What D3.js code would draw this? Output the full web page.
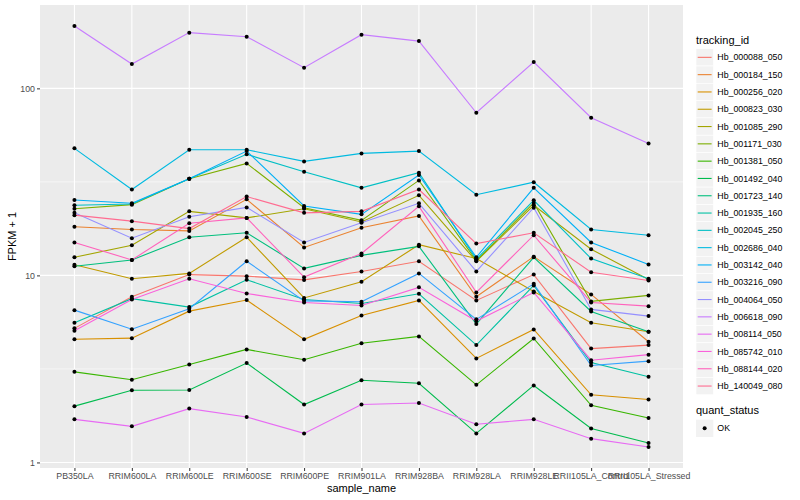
<!DOCTYPE html>
<html>
<head>
<meta charset="utf-8">
<script src="https://cdn.jsdelivr.net/npm/d3@7"></script>
<style>
  html, body { margin: 0; padding: 0; background: #ffffff; }
  svg { display: block; font-family: "Liberation Sans", Arial, Helvetica, sans-serif; }
</style>
</head>
<body>
<svg id="chart" width="800" height="500"></svg>
<script>
// ---------------- data ----------------
const samples = ["PB350LA","RRIM600LA","RRIM600LE","RRIM600SE","RRIM600PE","RRIM901LA","RRIM928BA","RRIM928LA","RRIM928LE","RRII105LA_Control","RRII105LA_Stressed"];

const trackingIds = ["Hb_000088_050","Hb_000184_150","Hb_000256_020","Hb_000823_030","Hb_001085_290","Hb_001171_030","Hb_001381_050","Hb_001492_040","Hb_001723_140","Hb_001935_160","Hb_002045_250","Hb_002686_040","Hb_003142_040","Hb_003216_090","Hb_004064_050","Hb_006618_090","Hb_008114_050","Hb_085742_010","Hb_088144_020","Hb_140049_080"];

// FPKM + 1 values per gene, one value per sample (same order as samples)
const hb_000088_050 = [5.21, 7.69, 10.1, 9.91, 9.46, 10.5, 11.9, 7.35, 10.1, 4.06, 4.24];
const hb_000184_150 = [18.2, 17.6, 17.3, 25.5, 14.1, 18.0, 20.8, 7.69, 12.6, 7.91, 4.42];
const hb_000256_020 = [4.56, 4.62, 6.44, 7.38, 4.55, 6.11, 7.35, 3.60, 5.14, 2.30, 2.17];
const hb_000823_030 = [11.4, 9.60, 10.25, 16.0, 7.58, 9.25, 14.6, 12.3, 8.21, 5.58, 5.00];
const hb_001085_290 = [12.5, 14.5, 22.0, 20.3, 22.7, 19.3, 26.8, 11.9, 23.7, 13.8, 9.52];
const hb_001171_030 = [22.7, 23.9, 32.9, 39.7, 23.0, 19.7, 32.2, 12.0, 24.4, 7.26, 7.82];
const hb_001381_050 = [3.05, 2.77, 3.34, 4.02, 3.54, 4.34, 4.72, 2.60, 4.60, 2.02, 1.73];
const hb_001492_040 = [2.00, 2.43, 2.44, 3.40, 2.04, 2.75, 2.65, 1.43, 2.58, 1.52, 1.27];
const hb_001723_140 = [11.2, 12.1, 16.0, 16.9, 10.9, 12.8, 14.3, 5.49, 12.5, 6.42, 5.00];
const hb_001935_160 = [5.58, 7.51, 6.77, 9.48, 7.44, 7.08, 7.98, 4.24, 8.84, 3.42, 2.87];
const hb_002045_250 = [23.7, 24.1, 32.9, 44.4, 35.8, 29.4, 35.4, 12.2, 25.2, 12.3, 9.6];
const hb_002686_040 = [47.8, 28.8, 47.0, 47.0, 40.7, 44.9, 46.2, 27.0, 31.5, 17.6, 16.4];
const hb_003142_040 = [25.3, 24.3, 32.9, 46.2, 23.5, 21.2, 34.4, 12.5, 29.4, 15.0, 11.45];
const hb_003216_090 = [6.52, 5.16, 6.63, 11.9, 7.31, 7.23, 10.25, 5.82, 9.01, 3.30, 3.48];
const hb_004064_050 = [21.6, 15.8, 20.6, 23.1, 15.0, 19.1, 24.3, 10.5, 23.0, 6.58, 6.06];
const hb_006618_090 = [215.4, 134.9, 198.6, 189.0, 129.0, 193.7, 179.0, 74.1, 138.2, 69.7, 50.8];
const hb_008114_050 = [1.70, 1.56, 1.94, 1.75, 1.43, 2.04, 2.08, 1.60, 1.70, 1.34, 1.21];
const hb_085742_010 = [5.06, 7.44, 9.60, 8.01, 7.17, 6.91, 8.63, 5.70, 8.11, 3.52, 3.77];
const hb_088144_020 = [15.0, 12.1, 19.0, 20.3, 9.79, 13.1, 23.4, 8.11, 16.4, 7.17, 6.85];
const hb_140049_080 = [21.0, 19.5, 17.8, 26.4, 21.6, 22.0, 28.8, 14.8, 16.9, 10.4, 9.40];

const yTickValues = [1, 10, 100];
const yTickLabels = ["1", "10", "100"];
const quantStatus = ["OK"];

const palette = ["#F8766D","#EA8331","#D89000","#C09B00","#A3A500","#7CAE00","#39B600","#00BB4E","#00BF7D","#00C1A3","#00BFC4","#00BAE0","#00B0F6","#35A2FF","#9590FF","#C77CFF","#E76BF3","#FA62DB","#FF62BC","#FF6C91"];

const seriesValues = [hb_000088_050, hb_000184_150, hb_000256_020, hb_000823_030, hb_001085_290, hb_001171_030, hb_001381_050, hb_001492_040, hb_001723_140, hb_001935_160, hb_002045_250, hb_002686_040, hb_003142_040, hb_003216_090, hb_004064_050, hb_006618_090, hb_008114_050, hb_085742_010, hb_088144_020, hb_140049_080];

const series = trackingIds.map((id, i) => ({
  id, color: palette[i],
  points: samples.map((s, j) => ({ sample: s, value: seriesValues[i][j] }))
}));

// ---------------- layout ----------------
const svg = d3.select("#chart");
const panel = { left: 40, right: 683, top: 5, bottom: 468 };

const x = d3.scalePoint().domain(samples).range([panel.left, panel.right]).padding(0.6);

const allVals = seriesValues.flat();
const lmin = Math.log10(d3.min(allVals)), lmax = Math.log10(d3.max(allVals));
const ex = (lmax - lmin) * 0.05;
const y = d3.scaleLog().domain([Math.pow(10, lmin - ex), Math.pow(10, lmax + ex)]).range([panel.bottom, panel.top]);

// panel background
svg.append("rect")
  .attr("x", panel.left).attr("y", panel.top)
  .attr("width", panel.right - panel.left).attr("height", panel.bottom - panel.top)
  .attr("fill", "#EBEBEB");

// minor y grid (half-decades)
const minor = [Math.pow(10, 0.5), Math.pow(10, 1.5), Math.pow(10, 2.5)].filter(v => v > y.domain()[0] && v < y.domain()[1]);
svg.append("g").selectAll("line").data(minor).join("line")
  .attr("x1", panel.left).attr("x2", panel.right)
  .attr("y1", d => y(d)).attr("y2", d => y(d))
  .attr("stroke", "#ffffff").attr("stroke-width", 0.55);

// major y grid
svg.append("g").selectAll("line").data(yTickValues).join("line")
  .attr("x1", panel.left).attr("x2", panel.right)
  .attr("y1", d => y(d)).attr("y2", d => y(d))
  .attr("stroke", "#ffffff").attr("stroke-width", 1.1);

// major x grid
svg.append("g").selectAll("line").data(samples).join("line")
  .attr("x1", d => x(d)).attr("x2", d => x(d))
  .attr("y1", panel.top).attr("y2", panel.bottom)
  .attr("stroke", "#ffffff").attr("stroke-width", 1.1);

// lines
const lineGen = d3.line().x(d => x(d.sample)).y(d => y(d.value));
svg.append("g").selectAll("path").data(series).join("path")
  .attr("d", d => lineGen(d.points))
  .attr("fill", "none")
  .attr("stroke", d => d.color)
  .attr("stroke-width", 1.1);

// points
svg.append("g").selectAll("g").data(series).join("g")
  .selectAll("circle").data(d => d.points).join("circle")
  .attr("cx", d => x(d.sample)).attr("cy", d => y(d.value))
  .attr("r", 2).attr("fill", "#000000");

// axes
const xAxis = d3.axisBottom(x).tickSize(3).tickPadding(2);
const gx = svg.append("g").attr("transform", `translate(0,${panel.bottom})`).call(xAxis);
gx.select(".domain").remove();
gx.selectAll(".tick line").attr("stroke", "#333333");
gx.selectAll(".tick text").attr("fill", "#4D4D4D").attr("font-size", "8.8px").attr("font-family", "Liberation Sans, Arial, sans-serif");

const yAxis = d3.axisLeft(y).tickValues(yTickValues).tickFormat((d, i) => yTickLabels[i]).tickSize(3).tickPadding(2);
const gy = svg.append("g").attr("transform", `translate(${panel.left},0)`).call(yAxis);
gy.select(".domain").remove();
gy.selectAll(".tick line").attr("stroke", "#333333");
gy.selectAll(".tick text").attr("fill", "#4D4D4D").attr("font-size", "8.8px").attr("font-family", "Liberation Sans, Arial, sans-serif");

// axis titles
svg.append("text")
  .attr("x", (panel.left + panel.right) / 2).attr("y", 492)
  .attr("text-anchor", "middle").attr("font-size", "11px").attr("fill", "#000")
  .text("sample_name");
svg.append("text")
  .attr("transform", `translate(16,${(panel.top + panel.bottom) / 2}) rotate(-90)`)
  .attr("text-anchor", "middle").attr("font-size", "11px").attr("fill", "#000")
  .text("FPKM + 1");

// legend: tracking_id
const lg = svg.append("g");
const keyX = 696, keyW = 17.3, keyH = 17.3, firstKeyY = 48.7;
lg.append("text").attr("x", keyX).attr("y", 44).attr("font-size", "11px").attr("fill", "#000").text("tracking_id");
const items = lg.selectAll("g.item").data(series).join("g").attr("class", "item")
  .attr("transform", (d, i) => `translate(${keyX},${firstKeyY + i * keyH})`);
items.append("rect").attr("width", keyW).attr("height", keyH)
  .attr("fill", "#F2F2F2").attr("stroke", "#ffffff").attr("stroke-width", 0.6);
items.append("line").attr("x1", 1.7).attr("x2", keyW - 1.7)
  .attr("y1", keyH / 2).attr("y2", keyH / 2)
  .attr("stroke", d => d.color).attr("stroke-width", 1.1);
items.append("text").attr("x", keyW + 4).attr("y", keyH / 2 + 3.1)
  .attr("font-size", "8.8px").attr("fill", "#000").text(d => d.id);

// legend: quant_status
const qy = firstKeyY + trackingIds.length * keyH + 17;
lg.append("text").attr("x", keyX).attr("y", qy + 2).attr("font-size", "11px").attr("fill", "#000").text("quant_status");
const q = lg.selectAll("g.q").data(quantStatus).join("g").attr("class", "q")
  .attr("transform", (d, i) => `translate(${keyX},${qy + 8 + i * keyH})`);
q.append("rect").attr("width", keyW).attr("height", keyH).attr("fill", "#F2F2F2");
q.append("circle").attr("cx", keyW / 2).attr("cy", keyH / 2).attr("r", 2).attr("fill", "#000");
q.append("text").attr("x", keyW + 4).attr("y", keyH / 2 + 3.1).attr("font-size", "8.8px").attr("fill", "#000").text(d => d);
</script>
</body>
</html>
